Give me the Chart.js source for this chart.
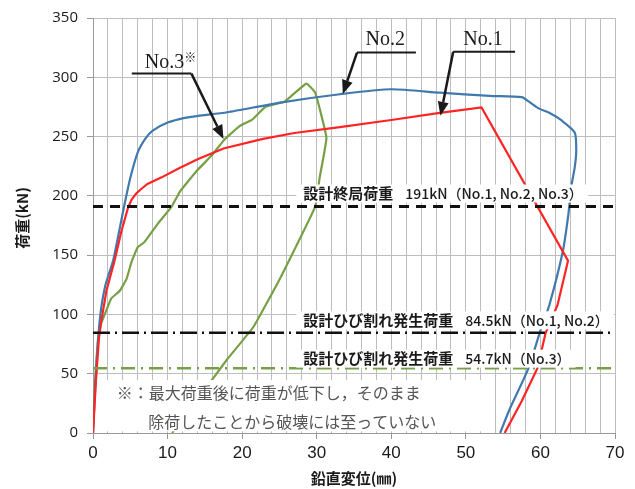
<!DOCTYPE html>
<html><head><meta charset="utf-8">
<script src="https://cdn.jsdelivr.net/npm/chart.js@4.4.1/dist/chart.umd.min.js"></script>
<style>
  html, body { margin: 0; padding: 0; background: #fff; }
  #wrap { width: 635px; height: 489px; position: relative; }
</style></head>
<body>
<div id="wrap"><canvas id="c"></canvas></div>
<script>
// load (kN) vs vertical displacement (mm)
const no1X = [0, 0.4, 0.8, 1.1, 1.8, 2.9, 3.8, 4.7, 5.2, 5.8, 6.5, 7.3, 9.2, 11.6, 14.1, 17.5, 22.8, 27, 33.1, 40, 46.5, 52.1, 63.7, 62.3, 60.7, 59.6, 57.5, 55.2];
const no1Y = [0, 45, 80, 94, 120, 145.5, 170, 190, 197, 202, 206, 210, 215.6, 223.5, 231, 240, 248, 253, 258, 264, 270, 274.6, 145.3, 108, 84.5, 54.7, 27, 0];

const no2X = [0, 0.4, 0.9, 1.6, 2.7, 3.5, 4.25, 5.0, 6.0, 7.0, 8.0, 10.1, 12.3, 14.1, 18, 25.1, 33.1, 40, 46.5, 53.2, 57.5, 58.6, 59.7, 61.3, 62.8, 64.6, 64.8, 64.6, 64.2, 63.7, 63.0, 61.2, 59.9, 58.4, 55.8, 54.6];
const no2Y = [0, 50, 95, 123, 145.5, 170, 193.5, 215, 236.6, 248, 255, 262, 265.8, 267.5, 270.5, 278.7, 285.7, 289.9, 287, 284.3, 283.2, 278.8, 274, 269.7, 263.8, 253.4, 238, 224, 210, 182, 153, 108, 84.5, 54.7, 19, 0];

const no3X = [0, 0.2, 0.45, 0.7, 1.1, 1.8, 2.45, 3.6, 4.5, 5.2, 6.0, 6.9, 8.7, 10.5, 11.7, 13.9, 15.9, 17.7, 19.7, 21.3, 23.1, 25.7, 28.6, 29.8, 31.3, 30.4, 29.8, 25.1, 21.5, 17.9, 16.1, 10.6];
const no3Y = [0, 36, 61, 81, 92.5, 103.5, 113.5, 120, 130, 145, 156.7, 161, 176.6, 190.4, 204, 221, 234, 248, 259, 264, 275, 279.5, 294.7, 287, 249, 215.6, 191, 130.6, 89.4, 61.4, 46, 0];

// design loads
const refLoads = [191, 84.5, 54.7];
const refNames = ["設計終局荷重", "設計ひび割れ発生荷重", "設計ひび割れ発生荷重"];
const refValues = ["191kN（No.1, No.2, No.3）", "84.5kN（No.1, No.2）", "54.7kN（No.3）"];

const seriesNames = ["No.1", "No.2", "No.3"];
const noteLines = ["※：最大荷重後に荷重が低下し，そのまま", "除荷したことから破壊には至っていない"];

const C = { red: "#ff2424", blue: "#4079ad", green: "#77a046", grid: "#bdbdbd", txt: "#1a1a1a" };

const pts = (xs, ys) => xs.map((x, i) => ({ x, y: ys[i] }));
const refLine = (v, color, dash, w) => ({
  data: [{ x: 0, y: v }, { x: 70, y: v }], borderColor: color, borderWidth: w,
  borderDash: dash, pointRadius: 0, showLine: true,
});
const curve = (xs, ys, color, t) => ({
  data: pts(xs, ys), borderColor: color, borderWidth: 2.2, pointRadius: 0,
  showLine: true, tension: t,
});

// callouts: label position, leader bar and arrow tip, in data units
const callouts = [
  { text: seriesNames[0], tx: 52.3, ty: 331.5, bar: [48.3, 56.6, 321.6], tip: [46.6, 267.5], knee: 48.3 },
  { text: seriesNames[1], tx: 39.2, ty: 331.5, bar: [35.4, 43.3, 320.8], tip: [33.5, 285.8], knee: 35.4 },
  { text: seriesNames[2], tx: 9.6, ty: 312, bar: [5.2, 13.2, 303.1], tip: [17.5, 247.9], knee: 13.2, star: true },
];

const overlay = {
  id: "overlay",
  afterDatasetsDraw(chart) {
    const { ctx, scales: { x, y } } = chart;
    ctx.save();
    // design load labels on white boxes
    const offs = [13, 12.5, 9.5];
    refLoads.forEach((v, i) => {
      const cy = y.getPixelForValue(v) - offs[i];
      const x0 = x.getPixelForValue(28.2);
      ctx.font = "bold 15px 'Noto Sans CJK JP'";
      const w1 = ctx.measureText(refNames[i]).width;
      ctx.font = "500 14px 'Noto Sans CJK JP'";
      const w2 = ctx.measureText(refValues[i]).width;
      ctx.fillStyle = "#fff";
      ctx.fillRect(x0 - 7, cy - 9, w1 + w2 + 12 + 12, 18);
      ctx.fillStyle = C.txt;
      ctx.textBaseline = "middle";
      ctx.font = "bold 15px 'Noto Sans CJK JP'";
      ctx.fillText(refNames[i], x0, cy);
      ctx.font = "500 14px 'Noto Sans CJK JP'";
      ctx.fillText(refValues[i], x0 + w1 + 12, cy);
    });

    // note box
    const bx0 = x.getPixelForValue(0.55), bx1 = x.getPixelForValue(52.2);
    const by0 = y.getPixelForValue(44.6), by1 = y.getPixelForValue(1.4);
    ctx.fillStyle = "#fff";
    ctx.fillRect(bx0, by0, bx1 - bx0, by1 - by0);
    ctx.fillStyle = "#555";
    ctx.font = "16px 'Noto Sans CJK JP'";
    ctx.textBaseline = "middle";
    ctx.fillText(noteLines[0], x.getPixelForValue(3.2), y.getPixelForValue(33.6));
    ctx.fillText(noteLines[1], x.getPixelForValue(7.4), y.getPixelForValue(9.5));

    // callouts
    ctx.strokeStyle = "#1a1a1a"; ctx.fillStyle = "#1a1a1a";
    ctx.lineWidth = 2;
    callouts.forEach(c => {
      const ly = y.getPixelForValue(c.bar[2]);
      ctx.beginPath();
      ctx.moveTo(x.getPixelForValue(c.bar[0]), ly);
      ctx.lineTo(x.getPixelForValue(c.bar[1]), ly);
      ctx.stroke();
      const kx = x.getPixelForValue(c.knee);
      const tx = x.getPixelForValue(c.tip[0]), ty = y.getPixelForValue(c.tip[1]);
      const ang = Math.atan2(ty - ly, tx - kx);
      const hl = 14, hw = 5.5;
      const bxp = tx - hl * Math.cos(ang), byp = ty - hl * Math.sin(ang);
      ctx.lineWidth = 2.5;
      ctx.beginPath(); ctx.moveTo(kx, ly); ctx.lineTo(bxp, byp); ctx.stroke();
      ctx.lineWidth = 2;
      ctx.beginPath();
      ctx.moveTo(tx, ty);
      ctx.lineTo(bxp + hw * Math.sin(ang), byp - hw * Math.cos(ang));
      ctx.lineTo(bxp - hw * Math.sin(ang), byp + hw * Math.cos(ang));
      ctx.closePath(); ctx.fill();
      ctx.font = "20px 'Liberation Serif'";
      ctx.textAlign = "center"; ctx.textBaseline = "middle";
      const px = x.getPixelForValue(c.tx), py = y.getPixelForValue(c.ty);
      ctx.fillText(c.text, px, py);
      if (c.star) {
        const w = ctx.measureText(c.text).width;
        ctx.font = "12px 'Noto Sans CJK JP'";
        ctx.textAlign = "left";
        ctx.fillText("※", px + w / 2, py - 6);
      }
      ctx.textAlign = "left";
    });
    ctx.restore();
  },
  afterDraw(chart) {
    const { ctx, chartArea: a } = chart;
    ctx.save();
    ctx.fillStyle = C.txt;
    ctx.textAlign = "center"; ctx.textBaseline = "middle";
    ctx.font = "bold 15px 'Noto Sans CJK JP'";
    ctx.fillText("鉛直変位(㎜)", (a.left + a.right) / 2, 478);
    ctx.translate(22, 218);
    ctx.rotate(-Math.PI / 2);
    ctx.fillText("荷重(kN)", 0, 0);
    ctx.restore();
  },
};

new Chart(document.getElementById("c"), {
  type: "scatter",
  data: {
    datasets: [
      refLine(refLoads[0], "#111", [10, 7], 3),
      refLine(refLoads[1], "#111", [17, 5, 2, 5], 2.5),
      refLine(refLoads[2], C.green, [14, 6, 2, 6], 2.5),
      curve(no1X, no1Y, C.red, 0),
      curve(no2X, no2Y, C.blue, 0.22),
      curve(no3X, no3Y, C.green, 0.1),
    ],
  },
  options: {
    responsive: true, maintainAspectRatio: false, animation: false,
    layout: { padding: { top: 17, right: 20, left: 0, bottom: 0 } },
    plugins: { legend: { display: false }, tooltip: { enabled: false } },
    scales: {
      x: {
        type: "linear", min: 0, max: 70,
        afterFit: s => { s.height = 56; },
        grid: {
          color: C.grid, lineWidth: 1, tickLength: 6,
          tickColor: c => (c.tick && c.tick.value % 10 === 0 ? "#999" : "rgba(0,0,0,0)"),
        },
        border: { color: "#999" },
        ticks: {
          stepSize: 2, autoSkip: false, maxRotation: 0, padding: 4, color: C.txt,
          font: { family: "'Liberation Sans Narrow', 'Liberation Sans', sans-serif", size: 17 },
          callback: v => (v % 10 === 0 ? v : ""),
        },
      },
      y: {
        min: 0, max: 350,
        afterFit: s => { s.width = 93; },
        grid: { color: C.grid, lineWidth: 1, tickLength: 6, tickColor: "#999" },
        border: { color: "#999" },
        ticks: {
          stepSize: 50, padding: 9, color: C.txt,
          font: { family: "'Open Sans', sans-serif", size: 15 },
        },
      },
    },
  },
  plugins: [overlay],
});
</script>
</body></html>
